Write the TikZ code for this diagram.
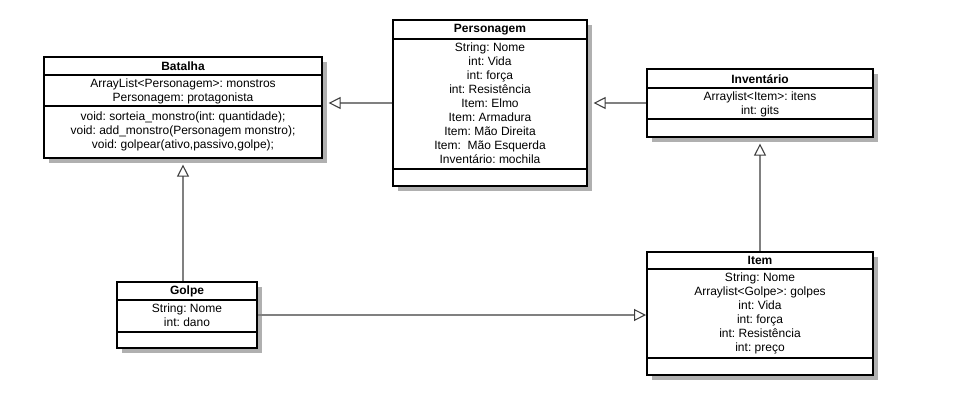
\documentclass[tikz,border=0pt]{standalone}
\usepackage{fontspec}
\setmainfont{Liberation Sans}
\frenchspacing
\usetikzlibrary{arrows.meta,shadows,fit,calc}
\definecolor{shadowgray}{HTML}{B0B0B0}
\definecolor{linkgray}{HTML}{808080}
\definecolor{tipgray}{HTML}{404040}
\begin{document}
\begin{tikzpicture}[x=0.75pt,y=-0.75pt,
  classbox/.style={draw=black, line width=1.5pt, fill=white, inner sep=0pt,
    drop shadow={shadow xshift=3.75pt, shadow yshift=-3.75pt, fill=shadowgray, opacity=1}},
  sep/.style={draw=black, line width=1.5pt},
  title/.style={font=\fontsize{9}{10.5}\selectfont\bfseries, inner sep=0pt},
  body/.style={font=\fontsize{9}{10.5}\selectfont, align=center, inner sep=0pt, anchor=north},
  gen/.style={draw=linkgray, line width=1.1pt,
    -{Triangle[open, length=9pt, width=9pt, color=tipgray, line width=0.8pt]}},
  toshadow/.style={shorten >=4.2pt}
]
\useasboundingbox[fill=white] (0,0) rectangle (955,420);

% ---------- class boxes ----------
\node[classbox, fit={(44,57) (322,158)}] (batalha) {};
\node[classbox, fit={(393,20) (587,186)}] (personagem) {};
\node[classbox, fit={(647,69) (873,137)}] (inventario) {};
\node[classbox, fit={(647,252) (873,375)}] (item) {};
\node[classbox, fit={(117,282) (257,348)}] (golpe) {};

% compartment separators
\draw[sep] (batalha.west |- 0,75) -- (batalha.east |- 0,75);
\draw[sep] (batalha.west |- 0,106) -- (batalha.east |- 0,106);
\draw[sep] (personagem.west |- 0,39) -- (personagem.east |- 0,39);
\draw[sep] (personagem.west |- 0,169) -- (personagem.east |- 0,169);
\draw[sep] (inventario.west |- 0,88) -- (inventario.east |- 0,88);
\draw[sep] (inventario.west |- 0,119) -- (inventario.east |- 0,119);
\draw[sep] (item.west |- 0,269) -- (item.east |- 0,269);
\draw[sep] (item.west |- 0,358) -- (item.east |- 0,358);
\draw[sep] (golpe.west |- 0,300) -- (golpe.east |- 0,300);
\draw[sep] (golpe.west |- 0,332) -- (golpe.east |- 0,332);

% ---------- Batalha ----------
\node[title] (batalhaT) at (183,66) {Batalha};
\node[body] (batalhaA) at (183,79) {ArrayList<Personagem>: monstros\\Personagem: protagonista};
\node[body] (batalhaM) at (183,112) {void: sorteia\_monstro(int: quantidade);\\void: add\_monstro(Personagem monstro);\\void: golpear(ativo,passivo,golpe);};

% ---------- Personagem ----------
\node[title] (personagemT) at (490,30) {Personagem};
\node[body] (personagemA) at (490,43) {String: Nome\\int: Vida\\int: força\\int: Resistência\\Item: Elmo\\Item: Armadura\\Item: Mão Direita\\Item:\ \ Mão Esquerda\\Inventário: mochila};

% ---------- Inventário ----------
\node[title] (inventarioT) at (760,79) {Inventário};
\node[body] (inventarioA) at (760,92) {Arraylist<Item>: itens\\int: gits};

% ---------- Item ----------
\node[title] (itemT) at (760,260) {Item};
\node[body] (itemA) at (760,273) {String: Nome\\Arraylist<Golpe>: golpes\\int: Vida\\int: força\\int: Resistência\\int: preço};

% ---------- Golpe ----------
\node[title] (golpeT) at (187,291) {Golpe};
\node[body] (golpeA) at (187,304) {String: Nome\\int: dano};

% ---------- generalisations ----------
\coordinate (gtop) at ($(golpe.north)+(-4,0)$);
\draw[gen, toshadow] (personagem.west) -- (personagem.west -| batalha.east);
\draw[gen, toshadow] (inventario.west) -- (inventario.west -| personagem.east);
\draw[gen, toshadow] (gtop) -- (gtop |- batalha.south);
\draw[gen, toshadow] (item.north) -- (item.north |- inventario.south);
\draw[gen] (golpe.east) -- (golpe.east -| item.west);
\end{tikzpicture}
\end{document}
